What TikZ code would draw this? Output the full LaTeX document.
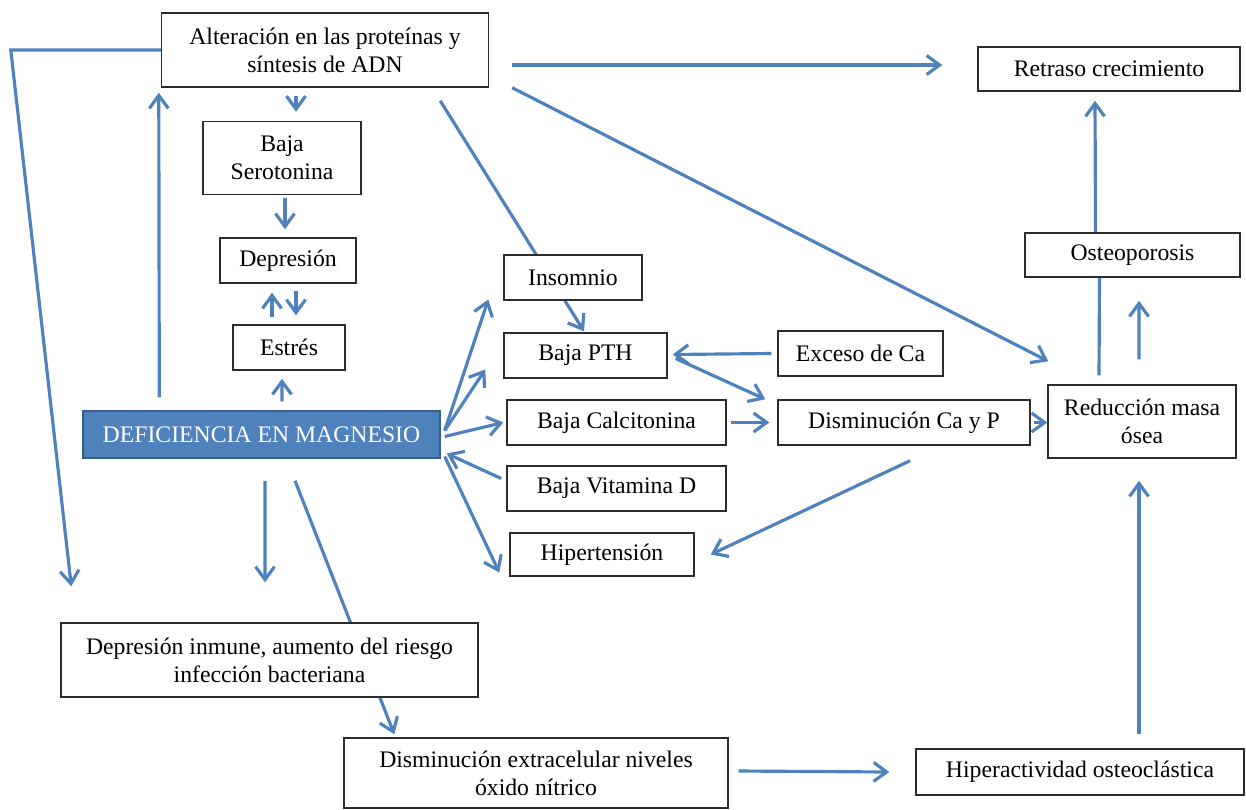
\documentclass[tikz,border=0pt]{standalone}
\usepackage{fontspec}
\setmainfont{Liberation Serif}
\usepackage{tikz}
\usetikzlibrary{arrows.meta, calc, backgrounds}
\definecolor{linkblue}{HTML}{4F81BD}
\definecolor{boxblue}{HTML}{4F81BD}
\definecolor{boxedge}{HTML}{385D8A}
\definecolor{edgegray}{HTML}{2B2B2B}

\begin{document}
\begin{tikzpicture}[
    x=0.02cm, y=-0.02cm,
    every node/.style={font=\rmfamily\fontsize{13.5}{16}\selectfont},
    box/.style={draw=edgegray, fill=white, line width=0.85pt, inner sep=0pt, align=center},
    mainbox/.style={box, draw=boxedge, fill=boxblue, text=white},
    arr/.style={-{Straight Barb[length=2.6mm, width=3.8mm]}, draw=linkblue, line width=1.8pt},
    link/.style={draw=linkblue, line width=1.8pt}
]
    \useasboundingbox (0,0) rectangle (1246,809);

    % Top row
    \node[box, minimum width=6.54cm, minimum height=1.48cm] (alt) at (325,50) {Alteración en las proteínas y\\síntesis de ADN};
    \node[box, minimum width=5.24cm, minimum height=0.88cm] (retraso) at (1109,69) {Retraso crecimiento};

    % Left column
    \node[box, minimum width=3.16cm, minimum height=1.46cm] (sero) at (282,158) {Baja\\Serotonina};
    \node[box, minimum width=2.72cm, minimum height=0.9cm] (depre) at (288,260.5) {Depresión};
    \node[box, minimum width=2.24cm, minimum height=0.9cm] (estres) at (289,347.5) {Estrés};
    \node[mainbox, minimum width=7.14cm, minimum height=0.94cm] (def) at (261.5,434.5) {DEFICIENCIA EN MAGNESIO};

    % Middle column
    \node[box, minimum width=2.76cm, minimum height=0.9cm] (ins) at (573,277.5) {Insomnio};
    \node[box, minimum width=3.26cm, minimum height=0.9cm] (pth) at (585.5,355.5) {Baja PTH};
    \node[box, minimum width=4.38cm, minimum height=0.9cm] (calc) at (616.5,422.5) {Baja Calcitonina};
    \node[box, minimum width=4.38cm, minimum height=0.9cm] (vitd) at (616.5,488.5) {Baja Vitamina D};
    \node[box, minimum width=3.68cm, minimum height=0.86cm] (hiper) at (602,554.5) {Hipertensión};

    % Calcium
    \node[box, minimum width=3.3cm, minimum height=0.9cm] (exceso) at (860.5,353.5) {Exceso de Ca};
    \node[box, minimum width=5.04cm, minimum height=0.9cm] (dismcap) at (904,422.5) {Disminución Ca y P};

    % Bone
    \node[box, minimum width=3.76cm, minimum height=1.46cm] (reduc) at (1142,421.5) {Reducción masa\\ósea};
    \node[box, minimum width=4.3cm, minimum height=0.88cm] (osteo) at (1132.5,255) {Osteoporosis};

    % Bottom row
    \node[box, minimum width=8.34cm, minimum height=1.48cm] (inmune) at (269.5,660) {Depresión inmune, aumento del riesgo\\infección bacteriana};
    \node[box, minimum width=7.68cm, minimum height=1.4cm] (extra) at (536,773) {Disminución extracelular niveles\\óxido nítrico};
    \node[box, minimum width=6.56cm, minimum height=0.92cm] (hiperact) at (1080,772) {Hiperactividad osteoclástica};

    \begin{scope}[on background layer]
    % From Alteracion
    \draw[arr] (alt.west) -- ++(-150,0) -- ($(inmune.north west)+(11,-36)$);
    \draw[arr] ($(alt.south)+(-29,8)$) -- ($(sero.north)+(14,-9)$);
    \draw[arr] ($(alt.south east)+(-49,13)$) -- ($(pth.north)+(-1.5,-1)$);
    \draw[arr] ($(alt.east)+(23,15)$) -- ($(retraso.west)+(-35,-4)$);
    \draw[arr] ($(alt.south east)+(23,0)$) -- ($(reduc.north west)+(1,-23)$);

    % Serotonina, depresion, estres
    \draw[arr] ($(sero.south)+(3,3)$) -- ($(depre.north)+(-3,-8)$);
    \draw[arr] ($(estres.north)+(-17,-7)$) -- ($(depre.south)+(-16,9)$);
    \draw[arr] ($(depre.south)+(8,7)$) -- ($(estres.north)+(7,-9)$);

    % From Deficiencia
    \draw[arr] ($(def.north west)+(77,-13)$) -- ($(alt.south west)+(-2,5)$);
    \draw[arr] ($(def.north)+(20.5,-9)$) -- ($(estres.south)+(-7,8)$);
    \draw[arr] ($(def.east)+(4,-4)$) -- ($(ins.west)+(-15,22)$);
    \draw[arr] ($(def.east)+(4,-4)$) -- ($(pth.west)+(-18,14)$);
    \draw[arr] ($(def.east)+(4,2)$) -- ($(calc.west)+(-3,0)$);
    \draw[arr] ($(vitd.west)+(-5,-10)$) -- ($(def.east)+(6,19)$);
    \draw[arr] ($(def.east)+(4,22)$) -- ($(hiper.west)+(-10,18)$);
    \draw[arr] ($(def.south)+(3.5,22)$) -- ($(inmune.north)+(-4.5,-40)$);
    \draw[arr] ($(def.south)+(33.5,22)$) -- ($(extra.north west)+(51,-3)$);

    % Calcio
    \draw[arr] ($(exceso.west)+(-6,0)$) -- ($(pth.east)+(5,-1)$);
    \draw[arr] ($(pth.east)+(8,3)$) -- ($(dismcap.north west)+(-12,0)$);
    \draw[arr] ($(calc.east)+(4,0)$) -- ($(dismcap.west)+(-8,0)$);
    \draw[arr] ($(dismcap.east)+(3,0)$) -- ($(reduc.west)+(0,1)$);
    \draw[arr] ($(dismcap.south)+(6,15)$) -- ($(hiper.east)+(16,0)$);

    % Hueso
    \draw[link] ($(reduc.north)+(-43,-9)$) -- ($(osteo.south)+(-33,0)$);
    \draw[arr] ($(reduc.north)+(-3,-25)$) -- ($(osteo.south)+(6.5,23)$);
    \draw[arr] ($(osteo.north)+(-37,0)$) -- ($(retraso.south)+(-14,9)$);
    \draw[arr] ($(hiperact.north)+(59,-14)$) -- ($(reduc.south)+(-3,22)$);
    \draw[arr] ($(extra.east)+(10,-2)$) -- ($(hiperact.west)+(-26,0)$);
    \end{scope}
\end{tikzpicture}
\end{document}
